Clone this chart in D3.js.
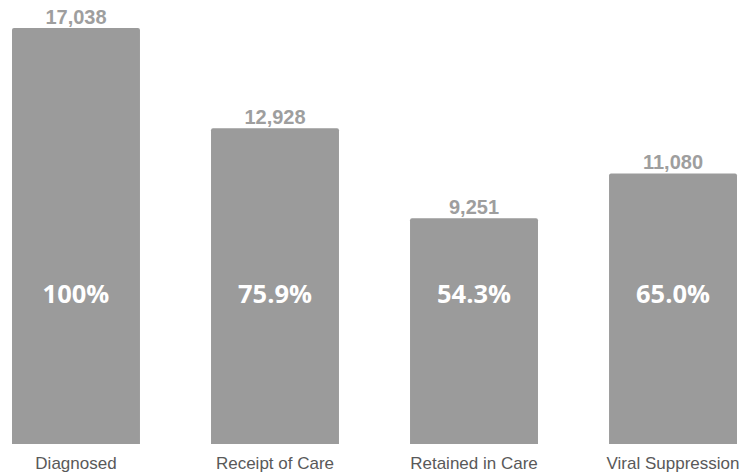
<!DOCTYPE html>
<html><head><meta charset="utf-8">
<script src="https://cdn.jsdelivr.net/npm/d3@7"></script>
<style>body{margin:0;background:#fff}svg{display:block}</style>
</head><body>
<svg id="c" width="744" height="473"></svg>
<script>
const categories = ["Diagnosed", "Receipt of Care", "Retained in Care", "Viral Suppression"];
const counts = [17038, 12928, 9251, 11080];
const percents = ["100%", "75.9%", "54.3%", "65.0%"];

const svg = d3.select("#c");
const x = d3.scaleBand().domain(categories).range([12, 737]).paddingInner(0.357).paddingOuter(0);
const y = d3.scaleLinear().domain([0, 17038]).range([444, 28]);
const fmt = d3.format(",");

const g = svg.append("g");
categories.forEach((c, i) => {
  const x0 = x(c), w = x.bandwidth(), yt = y(counts[i]), yb = y(0), r = 2;
  g.append("path")
    .attr("d", `M${x0},${yb}V${yt + r}Q${x0},${yt} ${x0 + r},${yt}H${x0 + w - r}Q${x0 + w},${yt} ${x0 + w},${yt + r}V${yb}Z`)
    .attr("fill", "#9b9b9b");
  g.append("text").attr("x", x0 + w / 2).attr("y", yt - 4)
    .attr("text-anchor", "middle").attr("font-family", "Liberation Sans, Arial, sans-serif")
    .attr("font-weight", "bold").attr("font-size", 20).attr("fill", "#9e9e9e")
    .text(fmt(counts[i]));
  g.append("text").attr("x", x0 + w / 2).attr("y", 303)
    .attr("text-anchor", "middle").attr("font-family", "Open Sans, sans-serif")
    .attr("font-weight", "bold").attr("font-size", 25.5).attr("fill", "#ffffff")
    .text(percents[i]);
  g.append("text").attr("x", x0 + w / 2).attr("y", 469)
    .attr("text-anchor", "middle").attr("font-family", "Liberation Sans, Arial, sans-serif")
    .attr("font-size", 17).attr("fill", "#595959")
    .text(c);
});
</script>
</body></html>
